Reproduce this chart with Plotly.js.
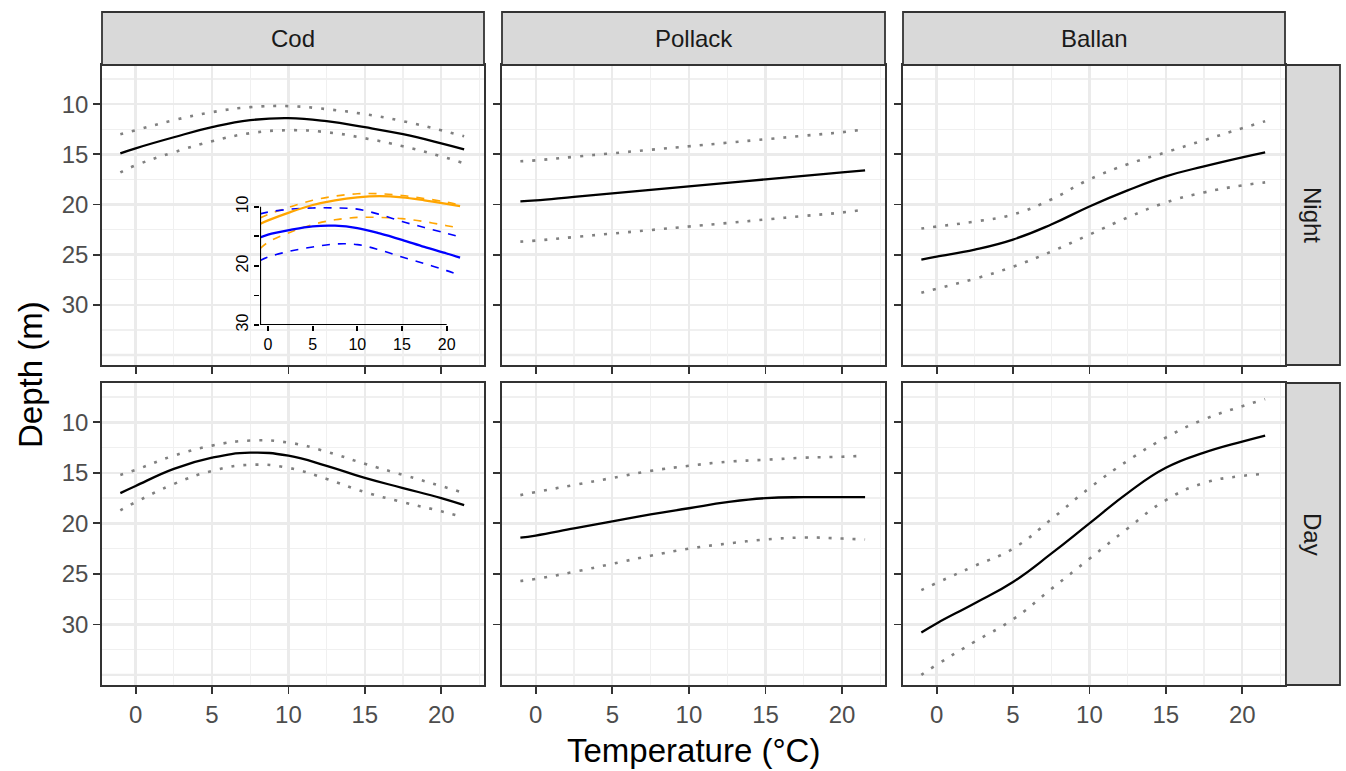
<!DOCTYPE html>
<html><head><meta charset="utf-8">
<script src="https://cdn.plot.ly/plotly-3.0.1.min.js"></script>
<style>body{margin:0}</style></head><body>
<div id="chart" style="width:1346px;height:771px"></div>
<script>
const temps = [-1, 0, 2.5, 5, 7.5, 10, 12.5, 15, 17.5, 20, 21.5];
const species = ["Cod", "Pollack", "Ballan"];
const periods = ["Night", "Day"];
const codNightFit = [14.9,14.4,13.3,12.3,11.6,11.4,11.7,12.3,13.0,13.9,14.5];
const codNightUp  = [13.0,12.6,11.6,10.8,10.3,10.2,10.5,11.0,11.7,12.6,13.2];
const codNightLo  = [16.8,16.1,14.8,13.7,12.9,12.6,12.8,13.4,14.2,15.2,15.9];
const codDayFit = [17.0,16.3,14.6,13.5,13.0,13.3,14.3,15.5,16.5,17.5,18.2];
const codDayUp  = [15.2,14.7,13.3,12.3,11.8,12.0,12.9,14.1,15.2,16.3,17.0];
const codDayLo  = [18.7,17.9,16.1,14.8,14.2,14.5,15.6,16.9,17.9,18.8,19.4];
const polNightFit = [19.7,19.6,19.25,18.9,18.55,18.2,17.85,17.5,17.15,16.8,16.6];
const polNightUp  = [15.7,15.6,15.25,14.9,14.55,14.2,13.85,13.5,13.15,12.8,12.5];
const polNightLo  = [23.7,23.6,23.25,22.9,22.55,22.2,21.85,21.5,21.15,20.8,20.5];
const polDayFit = [21.4,21.2,20.5,19.8,19.1,18.5,17.9,17.5,17.4,17.4,17.4];
const polDayUp  = [17.2,16.9,16.2,15.5,14.8,14.3,13.9,13.7,13.5,13.4,13.3];
const polDayLo  = [25.7,25.5,24.8,24.0,23.2,22.5,22.0,21.6,21.4,21.5,21.6];
const balNightFit = [25.5,25.2,24.5,23.5,22.0,20.2,18.6,17.2,16.2,15.3,14.8];
const balNightUp  = [22.4,22.2,21.7,21.0,19.5,17.5,16.0,14.8,13.6,12.4,11.7];
const balNightLo  = [28.8,28.4,27.4,26.2,24.7,23.0,21.3,19.8,18.8,18.1,17.8];
const balDayFit = [30.8,29.9,27.9,25.8,23.0,20.0,17.0,14.5,13.0,11.9,11.3];
const balDayUp  = [26.6,25.9,24.2,22.5,19.6,16.5,13.8,11.5,9.7,8.4,7.7];
const balDayLo  = [35.0,34.0,31.7,29.5,26.5,23.5,20.5,17.7,16.0,15.3,15.1];
const insetTemps = [-0.9, 0, 2.5, 5, 7.5, 10, 12.5, 15, 17.5, 20, 21.5];
const orangeFit = [12.9,12.3,10.9,9.7,8.9,8.4,8.2,8.4,8.9,9.5,9.9];
const orangeUp  = [11.9,11.3,10.0,8.9,8.2,7.8,7.8,8.1,8.6,9.2,9.7];
const orangeLo  = [17.1,16.0,14.3,13.0,12.2,11.8,11.8,12.0,12.5,13.2,13.6];
const blueFit = [15.2,14.7,13.9,13.3,13.2,13.6,14.5,15.6,16.8,17.9,18.6];
const blueUp  = [11.2,10.9,10.4,10.2,10.2,10.4,11.3,12.5,13.5,14.5,15.1];
const blueLo  = [19.1,18.5,17.5,16.8,16.3,16.4,17.3,18.5,19.6,20.8,21.6];

const series = [
  [[codNightFit,codNightUp,codNightLo],[polNightFit,polNightUp,polNightLo],[balNightFit,balNightUp,balNightLo]],
  [[codDayFit,codDayUp,codDayLo],[polDayFit,polDayUp,polDayLo],[balDayFit,balDayUp,balDayLo]]
];

const W=1346,H=771, L=102, R=6, T=12, B=86;
const pw=W-L-R, ph=H-T-B;
const px = v => (v-L)/pw, py = v => (H-B-v)/ph;
const colPx=[[102,484],[502,885],[903,1285]];
const rowPx=[[65,365],[383,685]];

const data=[], layout={
  width:W,height:H,margin:{l:L,r:R,t:T,b:B},
  paper_bgcolor:'white',plot_bgcolor:'rgba(0,0,0,0)',showlegend:false,
  font:{family:'Liberation Sans, Arial, sans-serif'},
  shapes:[],annotations:[]
};
let k=0;
for(let r=0;r<2;r++)for(let c=0;c<3;c++){
  k++;
  const xa='x'+(k===1?'':k), ya='y'+(k===1?'':k);
  const s=series[r][c];
  [[s[1],'dot'],[s[2],'dot'],[s[0],'solid']].forEach(([y,d])=>{
    data.push({x:temps,y:y,xaxis:xa,yaxis:ya,mode:'lines',type:'scatter',
      line:{color:d==='dot'?'#808080':'black',width:d==='dot'?2.6:2.3,dash:d==='dot'?'3px,9px':'solid',shape:'spline',smoothing:1.3},hoverinfo:'skip'});
  });
  const common={showline:true,mirror:true,linecolor:'#333',linewidth:1.8,
    gridcolor:'#ebebeb',gridwidth:2.4,zeroline:false,ticks:'outside',ticklen:7,tickcolor:'#333',tickwidth:1.8,
    tickfont:{size:24,color:'#4d4d4d'}};
  layout['xaxis'+(k===1?'':k)]=Object.assign({},common,{anchor:ya,
    domain:[px(colPx[c][0]),px(colPx[c][1])],range:[-2.2,22.8],
    tickvals:[0,5,10,15,20],showticklabels:r===1,
    minor:{tick0:2.5,dtick:5,showgrid:true,gridcolor:'#f0f0f0',gridwidth:1.3}});
  layout['yaxis'+(k===1?'':k)]=Object.assign({},common,{anchor:xa,
    domain:[py(rowPx[r][1]),py(rowPx[r][0])],range:[36,6.1],
    tickvals:[10,15,20,25,30],showticklabels:c===0,
    minor:{tick0:7.5,dtick:5,showgrid:true,gridcolor:'#f0f0f0',gridwidth:1.3}});
  layout.shapes.push({type:'line',xref:xa,yref:ya,x0:-2.2,x1:22.8,y0:35,y1:35,layer:'below',line:{color:'#ebebeb',width:2.4}});
}
const stripFill='#d9d9d9';
species.forEach((sp,c)=>{
  layout.shapes.push({type:'rect',xref:'paper',yref:'paper',x0:px(colPx[c][0]),x1:px(colPx[c][1]),
    y0:py(65),y1:py(12),fillcolor:stripFill,line:{color:'#333',width:1.8}});
  layout.annotations.push({xref:'paper',yref:'paper',x:px((colPx[c][0]+colPx[c][1])/2),y:py(38.5),
    xanchor:'center',yanchor:'middle',text:sp,showarrow:false,font:{size:24,color:'#1a1a1a'}});
});
periods.forEach((p,r)=>{
  layout.shapes.push({type:'rect',xref:'paper',yref:'paper',x0:px(1286),x1:px(1340),
    y0:py(rowPx[r][1]),y1:py(rowPx[r][0]),fillcolor:stripFill,line:{color:'#333',width:1.8}});
  layout.annotations.push({xref:'paper',yref:'paper',x:px(1313),y:py((rowPx[r][0]+rowPx[r][1])/2),
    xanchor:'center',yanchor:'middle',text:p,showarrow:false,textangle:90,font:{size:24,color:'#1a1a1a'}});
});
const insetSets=[[orangeUp,'orange','dash',1.6],[orangeLo,'orange','dash',1.6],[blueUp,'blue','dash',1.6],[blueLo,'blue','dash',1.6],[orangeFit,'orange','solid',2.3],[blueFit,'blue','solid',2.3]];
insetSets.forEach(([y,col,d,w])=>data.push({x:insetTemps,y:y,xaxis:'x7',yaxis:'y7',mode:'lines',type:'scatter',
  line:{color:col,width:w,dash:d==='dash'?'8px,8px':'solid',shape:'spline'},hoverinfo:'skip'}));
layout.xaxis7={anchor:'y7',domain:[px(260),px(469)],range:[-0.9,22.5],showgrid:false,zeroline:false,
  tickvals:[0,5,10,15,20],ticks:'outside',ticklen:5,tickcolor:'black',tickwidth:1.8,tickfont:{size:16,color:'black'}};
layout.yaxis7={anchor:'x7',domain:[py(325),py(192)],range:[30,7.5],showgrid:false,zeroline:false,
  tickvals:[10,15,20,25,30],ticktext:['10','','20','','30'],tickangle:-90,ticks:'outside',ticklen:5,tickcolor:'black',tickwidth:1.8,tickfont:{size:16,color:'black'}};
layout.shapes.push({type:'line',xref:'x7',yref:'y7',x0:-0.9,x1:-0.9,y0:10,y1:30,line:{color:'black',width:2.2}});
layout.shapes.push({type:'line',xref:'x7',yref:'y7',x0:-0.9,x1:20,y0:30,y1:30,line:{color:'black',width:2.2}});
layout.annotations.push({xref:'paper',yref:'paper',x:px(693),y:py(750),xanchor:'center',yanchor:'middle',text:'Temperature (°C)',showarrow:false,font:{size:33,color:'black'}});
layout.annotations.push({xref:'paper',yref:'paper',x:px(30),y:py(375),xanchor:'center',yanchor:'middle',text:'Depth (m)',showarrow:false,textangle:-90,font:{size:33,color:'black'}});
Plotly.newPlot('chart',data,layout,{staticPlot:true});
</script></body></html>
